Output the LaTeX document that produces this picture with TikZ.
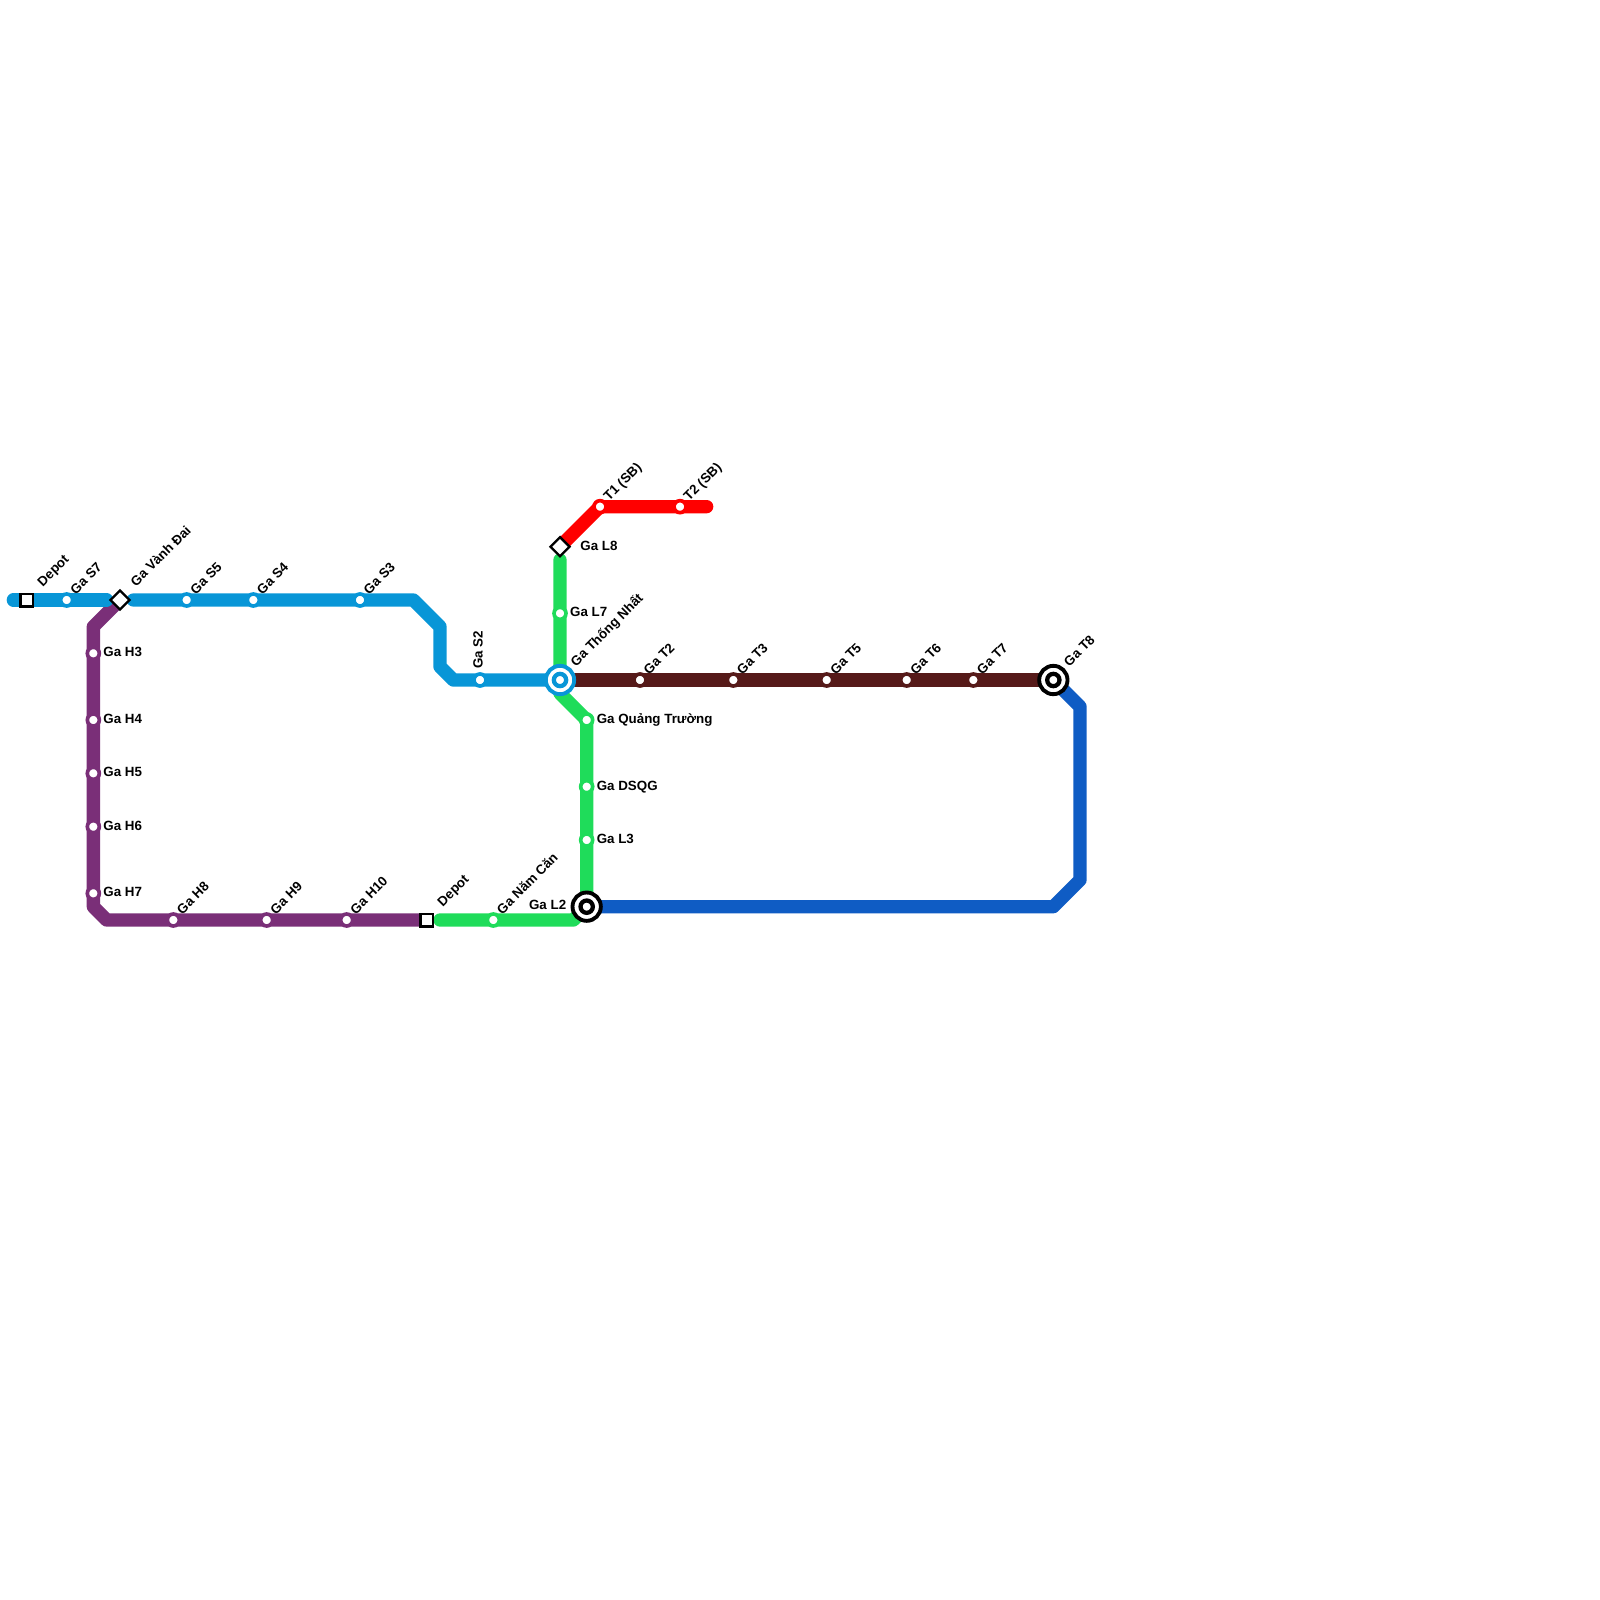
\documentclass[tikz,border=0pt]{standalone}
\usepackage{fontspec}
\setmainfont{Liberation Sans}
\usepackage{xcolor}
\usetikzlibrary{backgrounds,shapes.geometric}
\definecolor{lineS}{HTML}{0896D7}
\definecolor{lineH}{HTML}{7A2F78}
\definecolor{lineL}{HTML}{1FDC5A}
\definecolor{lineR}{HTML}{FF0000}
\definecolor{lineT}{HTML}{561A19}
\definecolor{lineB}{HTML}{0F5CC4}
\tikzset{
	route/.style={draw=#1, line width=0.2cm, line cap=round, line join=round},
	stn/.style={circle, fill=white, draw=#1, line width=0.055cm, minimum size=0.18cm, inner sep=0},
	hubout/.style={circle, fill=white, draw=#1, line width=0.058cm, minimum size=0.425cm, inner sep=0},
	hubin/.style={circle, fill=white, draw=#1, line width=0.064cm, minimum size=0.185cm, inner sep=0},
	depotbox/.style={rectangle, fill=white, draw=black, line width=0.035cm, minimum size=0.19cm, inner sep=0},
	swapbox/.style={diamond, fill=white, draw=black, line width=0.035cm, minimum size=0.3cm, inner sep=0},
	lbl/.style={font=\bfseries\fontsize{5.7pt}{6pt}\selectfont, inner sep=0},
	lblne/.style={lbl, xshift=0.132cm, yshift=0.07cm, rotate=45, anchor=base west},
	lblfar/.style={lbl, xshift=0.237cm, yshift=0.19cm, rotate=45, anchor=base west},
	lblup/.style={lbl, xshift=0.04cm, yshift=0.16cm, rotate=90, anchor=base west},
	lblr/.style={lbl, xshift=0.145cm, yshift=-0.054cm, anchor=base west},
}
\begin{document}
\begin{tikzpicture}[x=0.2cm, y=-0.2cm]
	\useasboundingbox (0,0) rectangle (120,120);
	% bends of the routes
	\foreach \x/\y/\n in {1/45/sA, 8/45/sB, 10/45/sC, 31/45/sD, 33/47/sE, 33/50/sF, 34/51/sG,
			7/47/hA, 7/68/hB, 8/69/hC,
			42/42/lA, 42/52/lB, 33/69/lC, 43/69/lD,
			45/38/rA, 53/38/rB,
			81/53/bA, 81/66/bB, 79/68/bC} {
			\coordinate (\n) at (\x,\y);
		}
	% stops, one loop for each line
	\foreach \x/\y/\n/\t in {5/45/gaSseven/Ga S7, 14/45/gaSfive/Ga S5, 19/45/gaSfour/Ga S4, 27/45/gaSthree/Ga S3} {
			\node[stn=lineS] (\n) at (\x,\y) {};
			\node[lblne] (\n-t) at (\n) {\t};
		}
	\node[stn=lineS] (gaStwo) at (36,51) {};
	\node[lblup] (gaStwo-t) at (gaStwo) {Ga S2};
	\foreach \y/\n/\t in {49/gaHthree/Ga H3, 54/gaHfour/Ga H4, 58/gaHfive/Ga H5, 62/gaHsix/Ga H6, 67/gaHseven/Ga H7} {
			\node[stn=lineH] (\n) at (7,\y) {};
			\node[lblr] (\n-t) at (\n) {\t};
		}
	\foreach \x/\n/\t in {13/gaHeight/Ga H8, 20/gaHnine/Ga H9, 26/gaHten/Ga H10} {
			\node[stn=lineH] (\n) at (\x,69) {};
			\node[lblne] (\n-t) at (\n) {\t};
		}
	\foreach \x/\y/\n/\t in {42/46/gaLseven/Ga L7, 44/54/gaQuang/Ga Quảng Trường, 44/59/gaDsqg/Ga DSQG, 44/63/gaLthree/Ga L3} {
			\node[stn=lineL] (\n) at (\x,\y) {};
			\node[lblr] (\n-t) at (\n) {\t};
		}
	\node[stn=lineL] (gaNam) at (37,69) {};
	\node[lblne] (gaNam-t) at (gaNam) {Ga Năm Căn};
	\foreach \x/\n/\t in {45/tOne/T1 (SB), 51/tTwo/T2 (SB)} {
			\node[stn=lineR] (\n) at (\x,38) {};
			\node[lblne] (\n-t) at (\n) {\t};
		}
	\foreach \x/\n/\t in {48/gaTtwo/Ga T2, 55/gaTthree/Ga T3, 62/gaTfive/Ga T5, 68/gaTsix/Ga T6, 73/gaTseven/Ga T7} {
			\node[stn=lineT] (\n) at (\x,51) {};
			\node[lblne] (\n-t) at (\n) {\t};
		}
	% depots and transfers
	\node[depotbox] (depotS) at (2,45) {};
	\node[lblfar] (depotS-t) at (depotS) {Depot};
	\node[depotbox] (depotL) at (32,69) {};
	\node[lblfar] (depotL-t) at (depotL) {Depot};
	\node[swapbox] (gaVanh) at (9,45) {};
	\node[lblfar] (gaVanh-t) at (gaVanh) {Ga Vành Đai};
	\node[swapbox] (gaLeight) at (42,41) {};
	\node[lbl, xshift=0.3cm, yshift=-0.055cm, anchor=base west] (gaLeight-t) at (gaLeight) {Ga L8};
	\node[hubout=lineS] (gaThong) at (42,51) {};
	\node[hubin=lineS] (gaThong-i) at (gaThong) {};
	\node[lblfar] (gaThong-t) at (gaThong) {Ga Thống Nhất};
	\node[hubout=black] (gaLtwo) at (44,68) {};
	\node[hubin=black] (gaLtwo-i) at (gaLtwo) {};
	\node[lbl, xshift=-0.3cm, yshift=-0.045cm, anchor=base east] (gaLtwo-t) at (gaLtwo) {Ga L2};
	\node[hubout=black] (gaTeight) at (79,51) {};
	\node[hubin=black] (gaTeight-i) at (gaTeight) {};
	\node[lblfar] (gaTeight-t) at (gaTeight) {Ga T8};
	% routes go under the stops
	\begin{scope}[on background layer]
		\draw[route=lineT] (gaThong.center) -- (gaTeight.center);
		\draw[route=lineB] (gaTeight.center) -- (bA) -- (bB) -- (bC) -- (gaLtwo.center);
		\draw[route=lineL] (lA) -- (lB) -- (gaQuang.center) -- (gaLtwo.center);
		\draw[route=lineL] (lC) -- (lD) -- (gaLtwo.center);
		\draw[route=lineH] (gaVanh.center) -- (hA) -- (hB) -- (hC) -- (depotL.center);
		\draw[route=lineS] (sA) -- (sB);
		\draw[route=lineS] (sC) -- (sD) -- (sE) -- (sF) -- (sG) -- (gaThong.center);
		\draw[route=lineR] (gaLeight.center) -- (rA) -- (rB);
	\end{scope}
\end{tikzpicture}
\end{document}
